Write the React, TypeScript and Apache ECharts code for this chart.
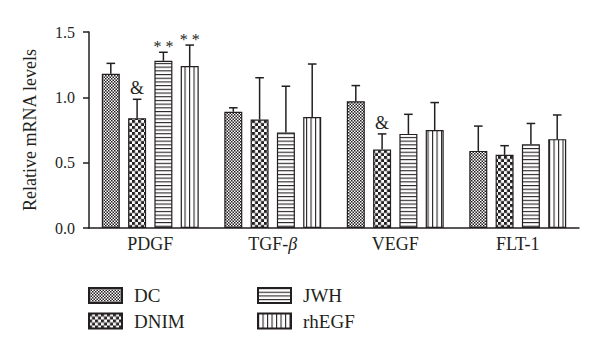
import React, { useEffect, useRef } from "react";
import * as echarts from "echarts";

const categories = ["PDGF", "TGF-β", "VEGF", "FLT-1"];
const seriesNames = ["DC", "DNIM", "JWH", "rhEGF"];
const dcValues = [1.18, 0.89, 0.97, 0.59];
const dnimValues = [0.84, 0.83, 0.6, 0.56];
const jwhValues = [1.28, 0.73, 0.72, 0.64];
const rhegfValues = [1.24, 0.85, 0.75, 0.68];
const dcErr = [0.08, 0.03, 0.12, 0.19];
const dnimErr = [0.145, 0.32, 0.12, 0.07];
const jwhErr = [0.065, 0.355, 0.15, 0.16];
const rhegfErr = [0.16, 0.405, 0.21, 0.185];
const dcMarks = ["", "", "", ""];
const dnimMarks = ["&", "", "&", ""];
const jwhMarks = ["* *", "", "", ""];
const rhegfMarks = ["* *", "", "", ""];
const yTicks = [0, 0.5, 1.0, 1.5];

const FONT = "'Liberation Serif', 'Times New Roman', serif";
const INK = "#231f20";
const BAR_W = 18;
const GAP = 8.3;

function makeCanvas(w: number, h: number, draw: (c: CanvasRenderingContext2D) => void) {
  const cv = document.createElement("canvas");
  cv.width = w;
  cv.height = h;
  const ctx = cv.getContext("2d")!;
  ctx.fillStyle = "#fff";
  ctx.fillRect(0, 0, w, h);
  ctx.fillStyle = INK;
  draw(ctx);
  return cv;
}

function patterns() {
  const dc = makeCanvas(30, 30, (c) => {
    c.fillRect(0, 0, 15, 15);
    c.fillRect(15, 15, 15, 15);
  });
  const dnim = makeCanvas(60, 60, (c) => {
    c.fillRect(0, 0, 30, 30);
    c.fillRect(30, 30, 30, 30);
  });
  const jwh = makeCanvas(40, 37, (c) => {
    c.fillRect(0, 0, 40, 12);
  });
  const rh = makeCanvas(45, 40, (c) => {
    c.fillRect(0, 0, 12, 40);
  });
  return [
    { image: dc, repeat: "repeat", imageWidth: 3, imageHeight: 3 },
    { image: dnim, repeat: "repeat", imageWidth: 6, imageHeight: 6 },
    { image: jwh, repeat: "repeat", imageWidth: 4, imageHeight: 3.7 },
    { image: rh, repeat: "repeat", imageWidth: 4.5, imageHeight: 4 },
  ];
}

export default function App() {
  const ref = useRef<HTMLDivElement>(null);
  useEffect(() => {
    if (!ref.current) return;
    const chart = echarts.init(ref.current, null, { renderer: "svg" });
    const pats = patterns();
    const values = [dcValues, dnimValues, jwhValues, rhegfValues];
    const errs = [dcErr, dnimErr, jwhErr, rhegfErr];
    const marks = [dcMarks, dnimMarks, jwhMarks, rhegfMarks];

    const barSeries = seriesNames.map((name, i) => ({
      name,
      type: "bar",
      data: values[i],
      barWidth: BAR_W,
      barGap: (GAP / BAR_W) * 100 + "%",
      itemStyle: { color: pats[i], borderColor: INK, borderWidth: 1.2 },
      z: 2,
    }));

    const errSeries = seriesNames.map((name, i) => ({
      name: "err-" + name,
      type: "custom",
      z: 3,
      data: values[i].map((v, j) => [j, v, errs[i][j]]),
      renderItem: (params: any, api: any) => {
        const j = api.value(0);
        const m = api.value(1);
        const sd = api.value(2);
        const base = api.coord([j, m]);
        const top = api.coord([j, m + sd]);
        const offset = (i - 1.5) * (BAR_W + GAP);
        const cx = base[0] + offset;
        const children: any[] = [
          { type: "line", shape: { x1: cx, y1: base[1], x2: cx, y2: top[1] }, style: { stroke: INK, lineWidth: 1.5 } },
          { type: "line", shape: { x1: cx - 4.3, y1: top[1], x2: cx + 4.3, y2: top[1] }, style: { stroke: INK, lineWidth: 1.5 } },
        ];
        const mk = marks[i][j];
        if (mk) {
          const isStar = mk.indexOf("*") >= 0;
          children.push({
            type: "text",
            x: cx,
            y: top[1] - (isStar ? -2 : 2),
            style: {
              text: mk,
              fill: INK,
              font: (isStar ? "16px " : "18px ") + FONT,
              align: "center",
              verticalAlign: "bottom",
            },
          });
        }
        return { type: "group", children };
      },
    }));

    const legendBase = {
      orient: "vertical",
      top: 286,
      padding: 0,
      itemWidth: 33,
      itemHeight: 15,
      itemGap: 6.5,
      icon: "rect",
      textStyle: { fontFamily: FONT, fontSize: 19, color: INK, lineHeight: 19, padding: [0, 0, 0, 7] },
    };

    chart.setOption({
      animation: false,
      backgroundColor: "#fff",
      grid: { left: 89, right: 21, top: 32, bottom: 126, containLabel: false },
      legend: [
        { ...legendBase, data: ["DC", "DNIM"], left: 88 },
        { ...legendBase, data: ["JWH", "rhEGF"], left: 257 },
      ],
      xAxis: {
        type: "category",
        data: categories,
        axisLine: { lineStyle: { color: INK, width: 1.5 } },
        axisTick: { alignWithLabel: true, length: 4, lineStyle: { color: INK, width: 1.5 } },
        axisLabel: {
          margin: 7,
          fontFamily: FONT,
          fontSize: 18,
          color: INK,
          formatter: (v: string) => v.replace("β", "{i|β}"),
          rich: { i: { fontStyle: "italic", fontFamily: FONT, fontSize: 18, color: INK } },
        },
      },
      yAxis: {
        type: "value",
        min: yTicks[0],
        max: yTicks[yTicks.length - 1],
        interval: 0.5,
        name: "Relative mRNA levels",
        nameLocation: "middle",
        nameGap: 50,
        nameTextStyle: { fontFamily: FONT, fontSize: 18, color: INK },
        axisLine: { show: true, lineStyle: { color: INK, width: 1.5 } },
        axisTick: { show: true, length: 6, lineStyle: { color: INK, width: 1.5 } },
        splitLine: { show: false },
        axisLabel: {
          margin: 14,
          fontFamily: FONT,
          fontSize: 16,
          color: INK,
          formatter: (v: number) => v.toFixed(1),
        },
      },
      series: [...barSeries, ...errSeries],
    });
    return () => chart.dispose();
  }, []);
  return <div ref={ref} style={{ width: 600, height: 354, position: "absolute", left: 0, top: 0 }} />;
}
